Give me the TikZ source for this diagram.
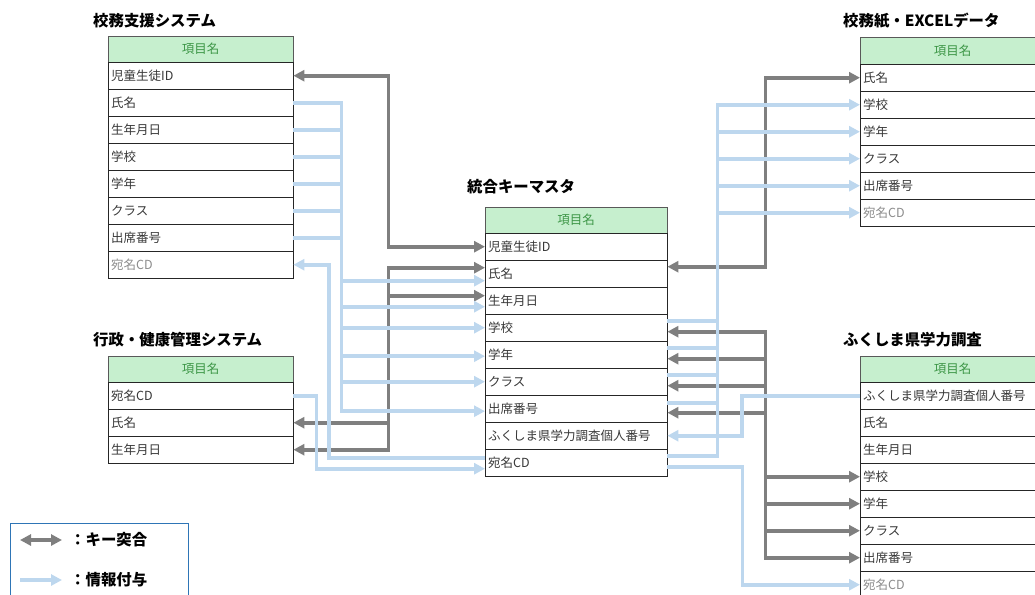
\documentclass[tikz,border=0pt]{standalone}
\usepackage{fontspec}
\setmainfont{Noto Sans CJK JP}
\usetikzlibrary{arrows.meta}
\definecolor{keyGray}{RGB}{127,127,127}
\definecolor{infoBlue}{RGB}{189,215,238}
\definecolor{hdrFill}{RGB}{198,239,206}
\definecolor{hdrText}{RGB}{60,150,70}
\definecolor{rowText}{RGB}{55,55,55}
\definecolor{rowFaint}{RGB}{140,140,140}
\definecolor{legBlue}{RGB}{46,117,182}

\tikzset{
  tbltitle/.style={font=\bfseries\fontsize{15.4}{18}\selectfont,anchor=west,inner sep=0},
  hdrcell/.style={draw=black!65,fill=hdrFill,text=hdrText,minimum width=185pt,
    minimum height=26pt,anchor=north west,inner sep=0,font=\fontsize{12.5}{14}\selectfont},
  rowcell/.style={draw=black!85,minimum height=27pt,text width=179pt,inner xsep=3pt,
    inner ysep=0,align=left,anchor=north west,font=\fontsize{12.5}{14}\selectfont,text=rowText},
  keyarr/.style={draw=keyGray,line width=3.6pt},
  infoarr/.style={draw=infoBlue,line width=3.6pt},
  legtxt/.style={font=\bfseries\fontsize{15.4}{18}\selectfont,anchor=west,inner sep=0},
}

\begin{document}
\begin{tikzpicture}[x=1pt,y=-1pt,>={Triangle[length=11pt,width=11pt]}]
  \useasboundingbox (0,0) rectangle (1035,594);
  \clip (0,0) rectangle (1035,594);

  % 校務支援システム
  \node[tbltitle] (ksT) at (93,21) {校務支援システム};
  \node[hdrcell] (ksH) at (108,36) {項目名};
  \foreach \t/\c [count=\i] in {児童生徒ID/rowText,氏名/rowText,生年月日/rowText,
      学校/rowText,学年/rowText,クラス/rowText,出席番号/rowText,宛名CD/rowFaint}
    \node[rowcell,text=\c] (ks\i) at (108,{62+27*(\i-1)}) {\t};

  % 行政・健康管理システム
  \node[tbltitle] (gsT) at (93,340) {行政・健康管理システム};
  \node[hdrcell] (gsH) at (108,356) {項目名};
  \foreach \t [count=\i] in {宛名CD,氏名,生年月日}
    \node[rowcell] (gs\i) at (108,{382+27*(\i-1)}) {\t};

  % 統合キーマスタ
  \node[tbltitle] (cT) at (467,187) {統合キーマスタ};
  \node[hdrcell,minimum width=182pt] (cH) at (485,207) {項目名};
  \foreach \t [count=\i] in {児童生徒ID,氏名,生年月日,学校,学年,クラス,出席番号,
      ふくしま県学力調査個人番号,宛名CD}
    \node[rowcell,text width=176pt] (c\i) at (485,{233+27*(\i-1)}) {\t};

  % 校務紙・EXCELデータ
  \node[tbltitle] (rtT) at (843,21) {校務紙・EXCELデータ};
  \node[hdrcell] (rtH) at (860,37.5) {項目名};
  \foreach \t/\c [count=\i] in {氏名/rowText,学校/rowText,学年/rowText,
      クラス/rowText,出席番号/rowText,宛名CD/rowFaint}
    \node[rowcell,text=\c] (rt\i) at (860,{64+27*(\i-1)}) {\t};

  % ふくしま県学力調査
  \node[tbltitle] (rbT) at (843,340) {ふくしま県学力調査};
  \node[hdrcell] (rbH) at (860,356) {項目名};
  \foreach \t/\c [count=\i] in {ふくしま県学力調査個人番号/rowText,氏名/rowText,
      生年月日/rowText,学校/rowText,学年/rowText,クラス/rowText,出席番号/rowText,
      宛名CD/rowFaint}
    \node[rowcell,text=\c] (rb\i) at (860,{382+27*(\i-1)}) {\t};

  % キー突合
  \draw[keyarr,<->] (ks1.east) -- ++(95,0) |- (c1.west);
  \draw[keyarr,<->] (gs2.east) -- ++(95,0) |- ([yshift=6pt]c2.west);
  \draw[keyarr,<->] (gs3.east) -- ++(95,0) |- ([yshift=5pt]c3.west);
  \draw[keyarr,<->] ([yshift=7pt]c2.east) -- ++(98,0) |- (rt1.west);
  \foreach \i in {4,...,7}
    \draw[keyarr,<->] ([yshift=-4pt]c\i.east) -- ++(98,0) |- (rb\i.west);

  % 情報付与
  \foreach \i/\s in {2/-7pt,3/-6pt,4/0pt,5/-1.5pt,6/0pt,7/-2.5pt}
    \draw[infoarr,->] (ks\i.east) -- ++(48,0) |- ([yshift=\s]c\i.west);
  \draw[infoarr,->] ([yshift=5pt]c9.west) -- ++(-156,0) |- (ks8.east);
  \draw[infoarr,->] (gs1.east) -- ++(23,0) |- ([yshift=-6pt]c9.west);
  \draw[infoarr,->] (rb1.west) -- ++(-118,0) |- (c8.east);
  \foreach \i/\j/\s in {4/2/7pt,5/3/6.5pt,6/4/6.5pt,7/5/5.5pt,9/6/6.5pt}
    \draw[infoarr,->] ([yshift=\s]c\i.east) -- ++(50,0) |- (rt\j.west);
  \draw[infoarr,->] ([yshift=-4pt]c9.east) -- ++(75,0) |- (rb8.west);

  % 凡例
  \node[draw=legBlue,line width=1.2pt,minimum width=178pt,minimum height=90pt,
    anchor=north west,inner sep=0] (legBox) at (10,523) {};
  \node[legtxt] (legKey) at (70,540) {：キー突合};
  \draw[keyarr,<->] ([xshift=-50pt]legKey.west) -- ([xshift=-8pt]legKey.west);
  \node[legtxt] (legInfo) at (70,580) {：情報付与};
  \draw[infoarr,->] ([xshift=-50pt]legInfo.west) -- ([xshift=-8pt]legInfo.west);
\end{tikzpicture}
\end{document}
